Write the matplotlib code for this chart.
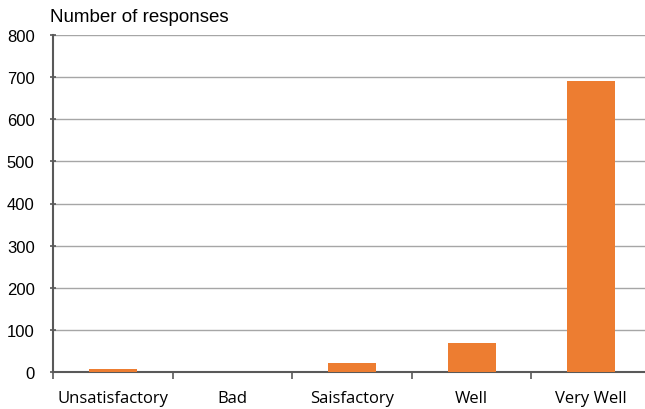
import matplotlib.pyplot as plt

# chart data
categories = ["Unsatisfactory", "Bad", "Saisfactory", "Well", "Very Well"]
responses = [7, 0, 21, 68, 690]
y_ticks = [0, 100, 200, 300, 400, 500, 600, 700, 800]

fig = plt.figure(figsize=(6.45, 4.10), dpi=100)
# plot area runs a little past the right edge of the picture, as in the reference
ax = fig.add_axes([53/645, 1 - 373/410, 598/645, 337/410])

x = list(range(len(categories)))
ax.bar(x, responses, width=0.40, color="#ED7D31", zorder=3)

ax.set_xlim(-0.5, len(categories) - 0.5)
ax.set_ylim(0, 800)
ax.set_yticks(y_ticks)
ax.set_yticklabels([str(v) for v in y_ticks], fontfamily="Liberation Sans", fontsize=12)
ax.yaxis.grid(True, color="#a6a6a6", linewidth=1.0, zorder=0)
ax.tick_params(axis="y", length=4.5, width=1.2, color="#595959", direction="inout", pad=11)

# category labels centred, tick marks between categories
ax.set_xticks(x)
ax.set_xticklabels(categories, fontfamily="Open Sans", fontsize=12)
ax.tick_params(axis="x", which="major", length=0, pad=13)
ax.set_xticks([i - 0.5 for i in range(len(categories) + 1)], minor=True)
ax.tick_params(axis="x", which="minor", length=5, width=1.2, color="#595959", direction="out")

for side in ["top", "right"]:
    ax.spines[side].set_visible(False)
ax.spines["left"].set_color("#595959")
ax.spines["left"].set_linewidth(1.5)
ax.spines["bottom"].set_color("#595959")
ax.spines["bottom"].set_linewidth(1.5)

fig.text(50/645, 1 - 18/410, "Number of responses", fontfamily="Liberation Sans",
         fontsize=13.5, ha="left", va="center")

fig.savefig("out.png", dpi=100)
